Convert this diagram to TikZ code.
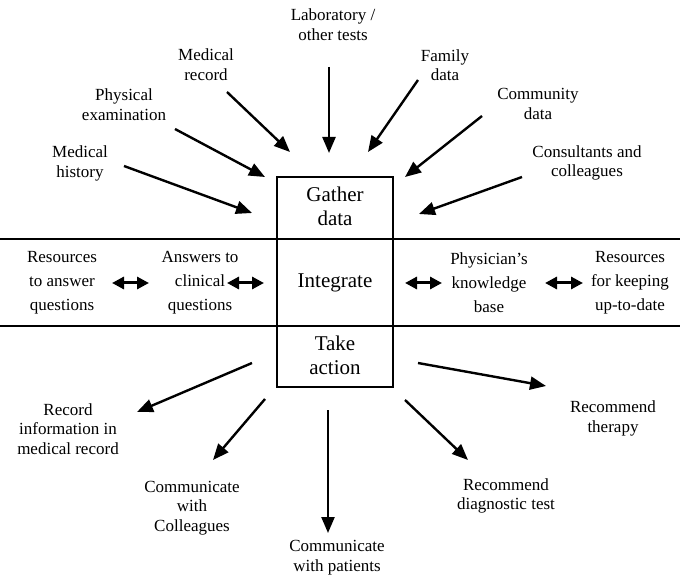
\documentclass[tikz,border=0pt]{standalone}
\usepackage{fontspec}
\setmainfont{Liberation Serif}
\usetikzlibrary{arrows.meta}
\begin{document}
\begin{tikzpicture}[x=1pt,y=-1pt,
  lbl/.style={align=center,inner sep=0pt,font=\fontsize{17}{19.5}\selectfont},
  rowlbl/.style={align=center,inner sep=0pt,font=\fontsize{17}{24}\selectfont},
  boxlbl/.style={align=center,inner sep=0pt,font=\fontsize{21}{23.5}\selectfont},
  arr/.style={line width=2.4pt,-{Triangle[length=16pt,width=13pt]}},
  dbl/.style={line width=3pt,{Triangle[length=12pt,width=12pt]}-{Triangle[length=12pt,width=12pt]}},
  sep/.style={line width=1.8pt},
  frame/.style={draw,line width=2pt}]
\useasboundingbox (0,0) rectangle (680,577);
% separator lines
\coordinate (l1a) at (0,239); \coordinate (l1b) at (680,239);
\coordinate (l2a) at (0,326); \coordinate (l2b) at (680,326);
\draw[sep] (l1a) -- (l1b);
\draw[sep] (l2a) -- (l2b);
% central box
\draw[frame] (277,177) rectangle (393,387);
\node[boxlbl] (gather) at (335,206.5) {Gather\\data};
\node[boxlbl] (integ) at (335,283) {Integrate};
\node[boxlbl] (take) at (335,355.5) {Take\\action};
% top labels
\node[lbl] (lab) at (333,24.5) {Laboratory /\\other tests};
\node[lbl] (medrec) at (206,64.5) {Medical\\record};
\node[lbl] (family) at (445,65) {Family\\data};
\node[lbl] (phys) at (124,104.5) {Physical\\examination};
\node[lbl] (comm) at (538,104) {Community\\data};
\node[lbl] (medhist) at (80,163.5) {Medical\\history};
\node[lbl] (consult) at (587,163) {Consultants and\\colleagues};
% integrate row labels
\node[rowlbl] (resL) at (62,283) {Resources\\to answer\\questions};
\node[rowlbl] (ans) at (200,283) {Answers to\\clinical\\questions};
\node[rowlbl] (kb) at (489,283) {Physician's\\knowledge\\base};
\node[rowlbl] (resR) at (630,283) {Resources\\for keeping\\up-to-date};
% bottom labels
\node[lbl] (record) at (68,429) {Record\\information in\\medical record};
\node[lbl] (coll) at (192,508) {Communicate\\with\\Colleagues};
\node[lbl] (pat) at (337,557.5) {Communicate\\with patients};
\node[lbl] (diag) at (506,496) {Recommend\\diagnostic test};
\node[lbl] (ther) at (613,418.5) {Recommend\\therapy};
% arrow end points
\coordinate (labS) at (329,67);   \coordinate (labE) at (329,153);
\coordinate (medrecS) at (227,92); \coordinate (medrecE) at (290,152);
\coordinate (famS) at (418,80);   \coordinate (famE) at (368,152);
\coordinate (physS) at (175,129); \coordinate (physE) at (265,177);
\coordinate (commS) at (482,116); \coordinate (commE) at (405,177);
\coordinate (histS) at (124,166); \coordinate (histE) at (252,213);
\coordinate (consS) at (522,177); \coordinate (consE) at (419,214);
\coordinate (recS) at (252,363);  \coordinate (recE) at (137,412);
\coordinate (collS) at (265,399); \coordinate (collE) at (213,460);
\coordinate (patS) at (328,410);  \coordinate (patE) at (328,533);
\coordinate (diagS) at (405,400); \coordinate (diagE) at (468,460);
\coordinate (therS) at (418,363); \coordinate (therE) at (546,386);
\coordinate (d1a) at (112,283); \coordinate (d1b) at (149,283);
\coordinate (d2a) at (227,283); \coordinate (d2b) at (264,283);
\coordinate (d3a) at (405,283); \coordinate (d3b) at (442,283);
\coordinate (d4a) at (545,283); \coordinate (d4b) at (583,283);
% arrows
\draw[arr] (labS) -- (labE);
\draw[arr] (medrecS) -- (medrecE);
\draw[arr] (famS) -- (famE);
\draw[arr] (physS) -- (physE);
\draw[arr] (commS) -- (commE);
\draw[arr] (histS) -- (histE);
\draw[arr] (consS) -- (consE);
\draw[arr] (recS) -- (recE);
\draw[arr] (collS) -- (collE);
\draw[arr] (patS) -- (patE);
\draw[arr] (diagS) -- (diagE);
\draw[arr] (therS) -- (therE);
\draw[dbl] (d1a) -- (d1b);
\draw[dbl] (d2a) -- (d2b);
\draw[dbl] (d3a) -- (d3b);
\draw[dbl] (d4a) -- (d4b);
\end{tikzpicture}
\end{document}
